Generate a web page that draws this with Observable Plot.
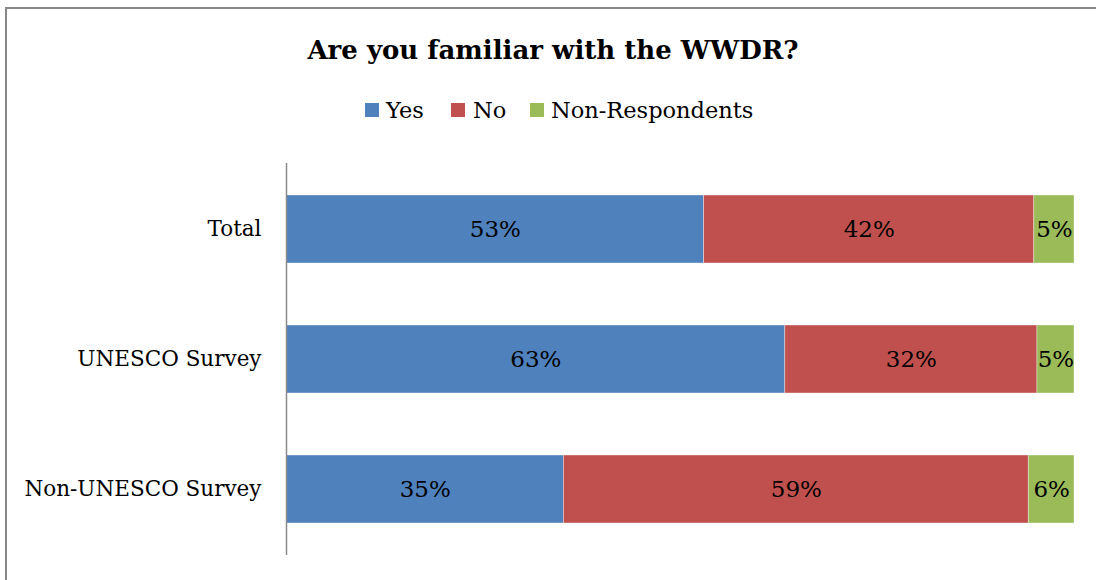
<!DOCTYPE html>
<html>
<head>
<meta charset="utf-8">
<script src="https://cdn.jsdelivr.net/npm/d3@7"></script>
<script src="https://cdn.jsdelivr.net/npm/@observablehq/plot@0.6"></script>
<style>
  html, body { margin: 0; padding: 0; background: #fff; overflow: hidden; }
  #wrap { position: relative; width: 1096px; height: 580px; overflow: hidden; font-family: "DejaVu Serif", serif; }
  #frame { position: absolute; left: 5px; top: 7px; width: 1200px; height: 700px; border: 2px solid #878787; box-sizing: border-box; }
  #title { position: absolute; left: 0; width: 1106px; top: 37px; text-align: center; font-weight: bold; font-size: 26px; line-height: 26px; color: #000; }
  .sw { position: absolute; width: 14px; height: 14px; top: 103px; }
  .lt { position: absolute; top: 99px; font-size: 22.5px; line-height: 22.5px; color: #000; white-space: nowrap; }
  #chart { position: absolute; left: 0; top: 0; }
</style>
</head>
<body>
<div id="wrap">
  <div id="frame"></div>
  <div id="title"></div>
  <div id="legend"></div>
  <div id="chart"></div>
</div>
<script>
const title = "Are you familiar with the WWDR?";
const categories = ["Total", "UNESCO Survey", "Non-UNESCO Survey"];
const seriesNames = ["Yes", "No", "Non-Respondents"];
const colors = ["#4F81BD", "#C0504D", "#9BBB59"];
const yesValues = [53.0, 63.3, 35.2];
const noValues = [41.9, 32.0, 59.0];
const nonRespValues = [5.1, 4.7, 5.8];

const seriesValues = [yesValues, noValues, nonRespValues];
const rows = [];
seriesNames.forEach((s, si) => {
  categories.forEach((c, ci) => {
    rows.push({series: s, cat: c, value: seriesValues[si][ci]});
  });
});

document.getElementById("title").textContent = title;

// legend
const legend = document.getElementById("legend");
const swX = [365, 451, 530];
const txX = [386, 473, 551];
seriesNames.forEach((s, i) => {
  const sw = document.createElement("div");
  sw.className = "sw";
  sw.style.left = swX[i] + "px";
  sw.style.background = colors[i];
  legend.appendChild(sw);
  const t = document.createElement("div");
  t.className = "lt";
  t.style.left = txX[i] + "px";
  t.textContent = s;
  legend.appendChild(t);
});

const chart = Plot.plot({
  width: 1096,
  height: 580,
  marginTop: 163,
  marginBottom: 25,
  marginLeft: 286,
  marginRight: 22,
  style: {fontFamily: "DejaVu Serif", fontSize: "21.5px", color: "#000", background: "transparent"},
  x: {domain: [0, 100], axis: null},
  y: {domain: categories, paddingInner: 0.48, paddingOuter: 0.24, label: null},
  color: {domain: seriesNames, range: colors},
  marks: [
    Plot.barX(rows, Plot.stackX({x: "value", y: "cat", z: "series", fill: "series", order: seriesNames, stroke: "#ffffff", strokeOpacity: 0.5, strokeWidth: 0.75})),
    Plot.text(rows, Plot.stackX({x: "value", y: "cat", z: "series", order: seriesNames, text: d => Math.round(d.value) + "%", fill: "#000", fontSize: 23})),
    Plot.ruleX([0], {stroke: "#8a8a8a", strokeWidth: 1.5}),
    Plot.axisY({tickSize: 0, tickPadding: 25, fontSize: 21.5, fill: "#000", label: null})
  ]
});
document.getElementById("chart").appendChild(chart);
</script>
</body>
</html>
